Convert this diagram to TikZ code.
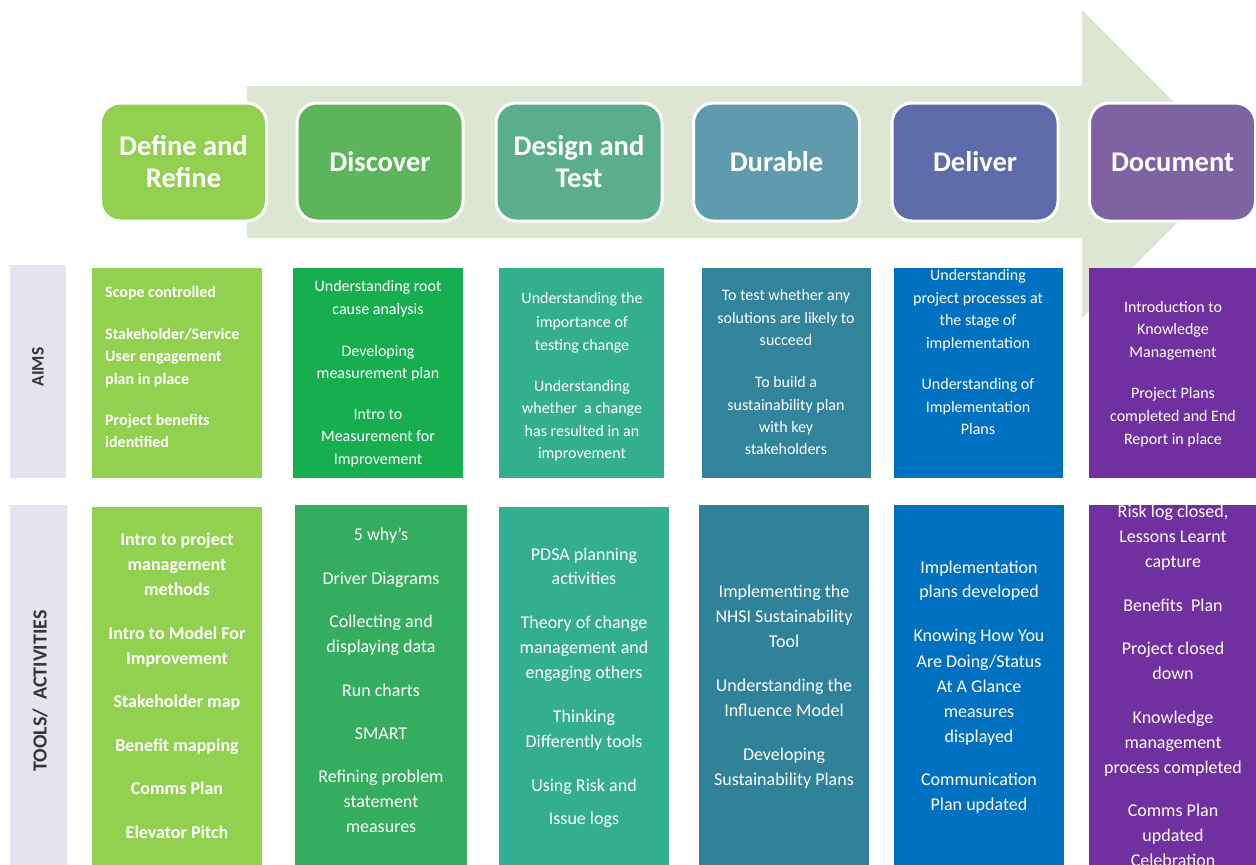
\documentclass[tikz,border=0pt]{standalone}
\usepackage{fontspec}
\setmainfont{Carlito}
\definecolor{arrowc}{HTML}{DDE6D3}
\definecolor{hA}{HTML}{92D050}
\definecolor{hB}{HTML}{5DB55B}
\definecolor{hC}{HTML}{5BAE8D}
\definecolor{hD}{HTML}{5F9AAE}
\definecolor{hE}{HTML}{5D6BA9}
\definecolor{hF}{HTML}{7F62A2}
\definecolor{aA}{HTML}{92D050}
\definecolor{aB}{HTML}{17AE50}
\definecolor{aC}{HTML}{33AF8E}
\definecolor{aD}{HTML}{31849B}
\definecolor{aE}{HTML}{0070C0}
\definecolor{aF}{HTML}{7030A0}
\definecolor{tB}{HTML}{34AE5E}
\definecolor{tC}{HTML}{33AE91}
\definecolor{tD}{HTML}{2F8299}
\definecolor{lblfill}{HTML}{E5E3ED}
\definecolor{lbltext}{HTML}{333333}
\newcommand{\paralines}[4]{%
  \foreach \yy/\lt [count=\i] in {#4}{\node[#3] (#1-\i) at (#2,\yy+4) {\lt};}}
\begin{document}
\begin{tikzpicture}[x=1pt,y=-1pt,
  hdr/.style={draw=white, line width=3pt, rounded corners=20pt, minimum width=166pt,
    minimum height=118pt, inner sep=0pt, text=white, align=center,
    font=\fontsize{28.5}{32}\selectfont\bfseries},
  cell/.style={anchor=north west, inner sep=0pt, outer sep=0pt},
  aimt/.style={anchor=base, text=white, inner sep=0pt, font=\fontsize{16}{19}\selectfont},
  aimb/.style={anchor=base west, text=white, inner sep=0pt, font=\fontsize{16}{19}\selectfont\bfseries},
  toolt/.style={anchor=base, text=white, inner sep=0pt, font=\fontsize{18}{21}\selectfont},
  toolb/.style={anchor=base, text=white, inner sep=0pt, font=\fontsize{18}{21}\selectfont\bfseries},
  lbl/.style={rotate=90, text=lbltext, inner sep=0pt}]
\useasboundingbox (0,0) rectangle (1256,865);
\clip (0,0) rectangle (1256,865);
% big arrow
\fill[arrowc] (247,86) -- (1082,86) -- (1082,10) -- (1236,164) -- (1082,318) -- (1082,238) -- (247,238) -- cycle;
% headers
\node[hdr, fill=hA] (h1) at (183.5,162) {Define and\\Refine};
\node[hdr, fill=hB] (h2) at (380,162) {Discover};
\node[hdr, fill=hC] (h3) at (579,162) {Design and\\Test};
\node[hdr, fill=hD] (h4) at (776.5,162) {Durable};
\node[hdr, fill=hE] (h5) at (975,162) {Deliver};
\node[hdr, fill=hF] (h6) at (1172.5,162) {Document};
% row labels
\node[cell, fill=lblfill, minimum width=56pt, minimum height=213pt] (la) at (10,265) {};
\node[cell, fill=lblfill, minimum width=57pt, minimum height=362pt] (lt) at (10,505) {};
\node[lbl, font=\fontsize{17.5}{20}\selectfont\bfseries] (laT) at (38,367) {AIMS};
\node[lbl, font=\fontsize{20}{24}\selectfont\bfseries] (ltT) at (40,691) {TOOLS/\ \ ACTIVITIES};
% aims boxes
\node[cell, fill=aA, minimum width=170pt, minimum height=210pt] (a1) at (92,268) {};
\node[cell, fill=aB, minimum width=170pt, minimum height=210pt] (a2) at (293,268) {};
\node[cell, fill=aC, minimum width=165pt, minimum height=210pt] (a3) at (499,268) {};
\node[cell, fill=aD, minimum width=169pt, minimum height=210pt] (a4) at (702,268) {};
\node[cell, fill=aE, minimum width=169pt, minimum height=210pt] (a5) at (894,268) {};
\node[cell, fill=aF, minimum width=170pt, minimum height=210pt] (a6) at (1089,268) {};
% tools boxes
\node[cell, fill=aA, minimum width=170pt, minimum height=362pt] (t1) at (92,507) {};
\node[cell, fill=tB, minimum width=172pt, minimum height=362pt] (t2) at (295,505) {};
\node[cell, fill=tC, minimum width=170pt, minimum height=362pt] (t3) at (499,507) {};
\node[cell, fill=tD, minimum width=170pt, minimum height=362pt] (t4) at (699,505) {};
\node[cell, fill=aE, minimum width=170pt, minimum height=362pt] (t5) at (894,505) {};
\node[cell, fill=aF, minimum width=170pt, minimum height=362pt] (t6) at (1089,505) {};
% aims texts
\paralines{ax1}{105}{aimb}{293/{Scope controlled}, 335/{Stakeholder/Service}, 357/{User engagement}, 380/{plan in place}, 421/{Project benefits}, 443/{identified}}
\paralines{ax2}{378}{aimt}{287/{Understanding root}, 310/{cause analysis}, 352/{Developing}, 374/{measurement plan}, 415/{Intro to}, 437/{Measurement for}, 460/{Improvement}}
\paralines{ax3}{582}{aimt}{299/{Understanding the}, 323/{importance of}, 346/{testing change}, 387/{Understanding}, 409/{whether\ \ a change}, 432/{has resulted in an}, 454/{improvement}}
\paralines{ax4}{786}{aimt}{296/{To test whether any}, 319/{solutions are likely to}, 341/{succeed}, 383/{To build a}, 406/{sustainability plan}, 428/{with key}, 450/{stakeholders}}
\paralines{ax5}{978}{aimt}{276/{Understanding}, 299/{project processes at}, 321/{the stage of}, 344/{implementation}, 385/{Understanding of}, 408/{Implementation}, 430/{Plans}}
\paralines{ax6}{1173}{aimt}{308/{Introduction to}, 330/{Knowledge}, 353/{Management}, 394/{Project Plans}, 417/{completed and End}, 440/{Report in place}}
\node[aimt] (pm) at (380,497) {Process mapping};
% tools texts
\paralines{tx1}{177}{toolb}{541/{Intro to project}, 566/{management}, 591/{methods}, 635/{Intro to Model For}, 660/{Improvement}, 703/{Stakeholder map}, 747/{Benefit mapping}, 790/{Comms Plan}, 834/{Elevator Pitch}}
\paralines{tx2}{381}{toolt}{536/{5 why’s}, 580/{Driver Diagrams}, 623/{Collecting and}, 648/{displaying data}, 692/{Run charts}, 735/{SMART}, 778/{Refining problem}, 803/{statement}, 828/{measures}}
\paralines{tx3}{584}{toolt}{556/{PDSA planning}, 580/{activities}, 624/{Theory of change}, 649/{management and}, 674/{engaging others}, 718/{Thinking}, 743/{Differently tools}, 787/{Using Risk and}, 820/{Issue logs}}
\paralines{tx4}{784}{toolt}{593/{Implementing the}, 618/{NHSI Sustainability}, 643/{Tool}, 687/{Understanding the}, 712/{Influence Model}, 756/{Developing}, 781/{Sustainability Plans}}
\paralines{tx5}{979}{toolt}{569/{Implementation}, 593/{plans developed}, 637/{Knowing How You}, 663/{Are Doing/Status}, 688/{At A Glance}, 713/{measures}, 738/{displayed}, 781/{Communication}, 806/{Plan updated}}
\paralines{tx6}{1173}{toolt}{513/{Risk log closed,}, 538/{Lessons Learnt}, 563/{capture}, 607/{Benefits\ \ Plan}, 650/{Project closed}, 675/{down}, 719/{Knowledge}, 744/{management}, 769/{process completed}, 812/{Comms Plan}, 837/{updated}, 862/{Celebration}}
\end{tikzpicture}
\end{document}
